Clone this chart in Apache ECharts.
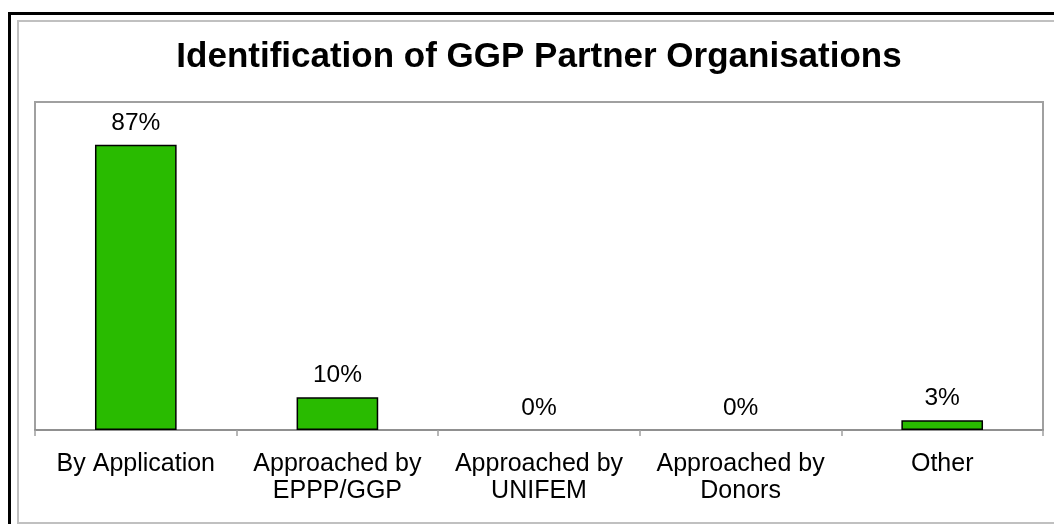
<!DOCTYPE html>
<html>
<head>
<meta charset="utf-8">
<script src="https://cdn.jsdelivr.net/npm/echarts@6/dist/echarts.min.js"></script>
<style>
  html, body { margin: 0; padding: 0; background: #fff; }
  #chart { width: 1054px; height: 524px; }
</style>
</head>
<body>
<div id="chart"></div>
<script>
const titleText = 'Identification of GGP Partner Organisations'
const categories = ['By Application', 'Approached by\nEPPP/GGP', 'Approached by\nUNIFEM', 'Approached by\nDonors', 'Other']
const shares = [87, 10, 0, 0, 3]

const font = '"Liberation Sans", Arial, sans-serif'
const chart = echarts.init(document.getElementById('chart'))

// zero bars get no outline, like the original
const barData = shares.map(v => ({
  value: v,
  itemStyle: v === 0 ? { borderWidth: 0 } : {}
}))

chart.setOption({
  animation: false,
  title: {
    text: titleText,
    left: 534,
    top: 35,
    textAlign: 'center',
    textStyle: { fontFamily: font, fontSize: 35, fontWeight: 'bold', color: '#000' }
  },
  // outer frames
  graphic: [{
    type: 'rect',
    shape: { x: 9.5, y: 13.5, width: 1200, height: 700 },
    style: { fill: 'none', stroke: '#000', lineWidth: 3 },
    silent: true
  }, {
    type: 'rect',
    shape: { x: 18, y: 21, width: 1200, height: 502 },
    style: { fill: 'none', stroke: '#c0c0c0', lineWidth: 2 },
    silent: true
  }],
  grid: {
    left: 35,
    right: 11,
    top: 102,
    bottom: 94,
    show: true,
    borderColor: '#a0a0a0',
    borderWidth: 2
  },
  xAxis: {
    type: 'category',
    data: categories,
    axisLine: { lineStyle: { color: '#909090', width: 2 } },
    axisTick: { show: true, length: 6, lineStyle: { color: '#a0a0a0', width: 1.5 } },
    axisLabel: {
      interval: 0,
      margin: 21,
      fontFamily: font,
      fontSize: 25,
      lineHeight: 27,
      color: '#000'
    }
  },
  yAxis: {
    type: 'value',
    min: 0,
    max: 100,
    show: false,
    splitLine: { show: false }
  },
  series: [{
    type: 'bar',
    data: barData,
    barWidth: '40.5%',
    itemStyle: { color: '#29bb00', borderColor: '#000', borderWidth: 1.5 },
    label: {
      show: true,
      position: 'top',
      distance: 9,
      formatter: '{c}%',
      fontFamily: font,
      fontSize: 24.5,
      color: '#000'
    }
  }]
})
</script>
</body>
</html>
